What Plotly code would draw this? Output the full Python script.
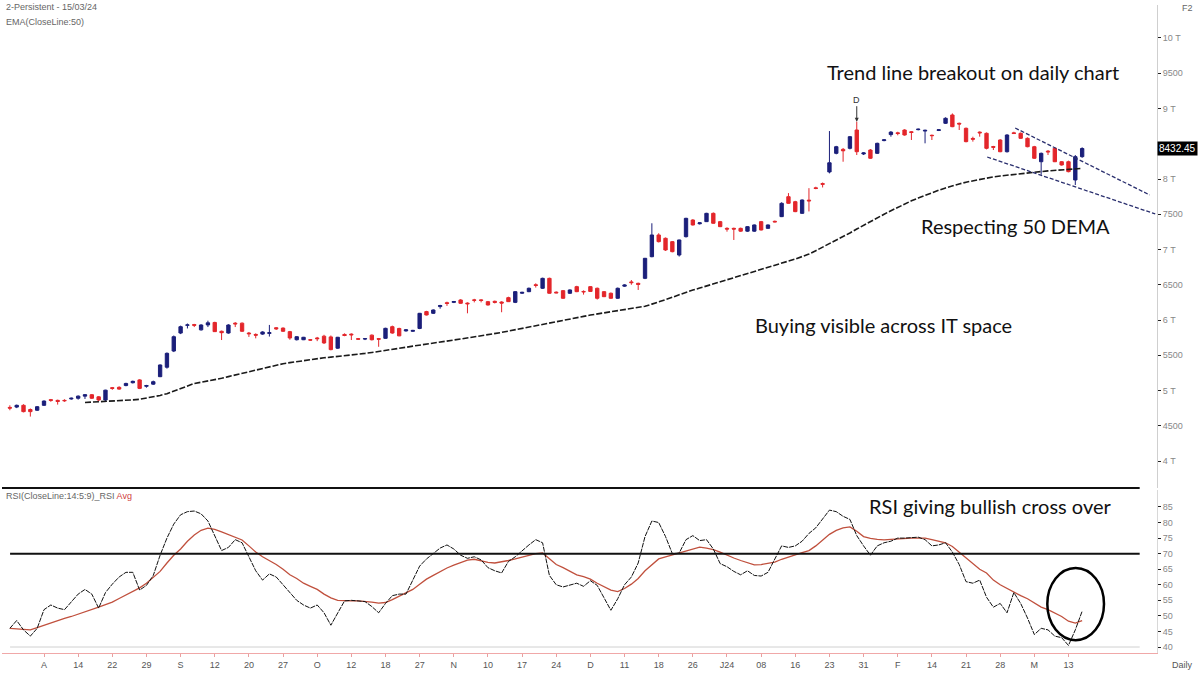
import plotly.graph_objects as go

# ---------------- data ----------------
bars = list(range(158))

opens = [4760,4765,4790,4730,4720,4790,4870,4860,4860,4880,4890,4920,4940,4910,4865,5040,5045,5070,5110,5150,
         5060,5090,5196,5330,5560,5815,5925,5935,5860,5930,5965,5840,5815,5955,5955,5815,5795,5800,5810,5890,
         5885,5835,5720,5720,5720,5745,5770,5760,5600,5795,5800,5735,5730,5785,5735,5740,5905,5880,5845,5840,
         5880,6119,6095,6190,6245,6250,6284,6240,6285,6285,6260,6265,6255,6317,6250,6380,6402,6500,6450,6591,
         6395,6416,6379,6473,6405,6473,6450,6402,6379,6308,6480,6540,6520,6591,6898,7206,7159,7111,6922,7182,
         7418,7365,7395,7513,7395,7300,7300,7300,7260,7260,7395,7300,7400,7466,7749,7678,7513,7700,7875,7935,
         8100,8364,8420,8435,8695,8355,8411,8364,8545,8630,8655,8695,8670,8700,8680,8620,8688,8790,8908,8790,
         8719,8575,8665,8648,8460,8553,8387,8655,8648,8577,8458,8245,8395,8435,8245,8245,7986,8317]
highs = [4790,4800,4805,4745,4780,4860,4880,4870,4875,4900,4930,4950,4950,4920,5010,5050,5060,5110,5140,5160,
         5080,5140,5370,5540,5780,5920,5950,5945,5940,5990,5975,5850,5940,5970,5965,5830,5810,5840,5930,5900,
         5895,5845,5770,5760,5730,5760,5790,5780,5760,5810,5810,5745,5740,5795,5745,5890,5920,5890,5870,5860,
         6100,6130,6150,6215,6260,6270,6295,6250,6300,6295,6270,6275,6265,6330,6410,6400,6460,6520,6600,6600,
         6405,6425,6435,6485,6420,6480,6460,6410,6390,6460,6505,6567,6530,6880,7372,7230,7170,7120,7140,7450,
         7430,7385,7520,7525,7405,7315,7310,7310,7330,7355,7405,7355,7410,7670,7800,7690,7710,7870,7890,7950,
         8680,8470,8440,8610,8813,8380,8425,8515,8565,8680,8670,8705,8680,8715,8700,8630,8705,8875,8930,8800,
         8730,8600,8675,8660,8470,8565,8635,8670,8660,8590,8470,8375,8410,8450,8255,8260,8340,8450]
lows = [4720,4750,4690,4630,4710,4780,4840,4800,4840,4870,4870,4880,4880,4850,4850,5010,5010,5060,5100,5020,
        5040,5080,5190,5310,5545,5800,5880,5900,5850,5900,5830,5716,5805,5900,5830,5760,5740,5790,5765,5860,
        5830,5720,5710,5715,5705,5700,5660,5570,5590,5770,5716,5720,5715,5710,5620,5735,5805,5770,5835,5830,
        5870,6065,6085,6160,6200,6240,6230,6095,6250,6250,6205,6235,6110,6255,6240,6370,6395,6460,6440,6375,
        6380,6300,6370,6395,6360,6400,6290,6325,6300,6300,6470,6500,6426,6580,6890,7100,6980,6960,6900,7170,
        7340,7355,7390,7365,7318,7253,7135,7250,7250,7250,7270,7295,7385,7460,7650,7530,7505,7540,7855,7880,
        8080,8350,8245,8420,8340,8340,8285,8355,8535,8600,8620,8615,8553,8690,8506,8553,8680,8780,8735,8695,
        8520,8530,8600,8420,8411,8380,8375,8640,8570,8450,8285,8060,8340,8240,8190,8095,7915,8300]
closes = [4750,4790,4700,4700,4770,4850,4860,4845,4855,4890,4920,4940,4890,4865,5005,5030,5020,5100,5130,5030,
          5070,5125,5362,5527,5763,5905,5930,5925,5929,5960,5835,5820,5929,5945,5840,5805,5785,5830,5820,5875,
          5840,5745,5763,5755,5715,5735,5675,5580,5755,5780,5790,5728,5735,5720,5728,5882,5815,5775,5860,5852,
          6095,6071,6142,6205,6235,6262,6237,6230,6280,6278,6213,6250,6240,6260,6402,6392,6450,6490,6591,6379,
          6385,6308,6426,6402,6400,6405,6308,6331,6308,6450,6496,6530,6505,6875,7206,7111,6993,6969,7135,7442,
          7348,7378,7513,7372,7324,7290,7290,7260,7324,7348,7277,7348,7392,7655,7655,7537,7702,7690,7865,7925,
          8230,8458,8400,8600,8387,8370,8294,8506,8555,8665,8645,8624,8660,8706,8690,8615,8698,8861,8742,8780,
          8530,8565,8655,8435,8450,8387,8624,8645,8577,8458,8294,8364,8385,8245,8199,8104,8317,8432.45]

ema50 = [None]*11 + [
    4830,4834,4837,4841,4845,4852,4860,4867,4875,4890,4905,4930,4955,4992,5030,5065,5100,5117,5133,5150,
    5173,5197,5220,5245,5270,5295,5318,5342,5365,5380,5395,5410,5425,5440,5455,5464,5473,5482,5491,5500,
    5513,5526,5539,5552,5565,5581,5597,5613,5629,5645,5659,5673,5688,5702,5716,5730,5744,5759,5773,5787,
    5806,5824,5843,5861,5880,5899,5918,5937,5956,5975,5994,6013,6032,6051,6070,6085,6100,6115,6130,6146,
    6163,6179,6195,6225,6255,6285,6322,6358,6395,6424,6453,6482,6511,6540,6569,6598,6627,6656,6685,6714,
    6743,6772,6801,6830,6865,6900,6935,6983,7032,7080,7130,7180,7235,7290,7345,7400,7450,7500,7550,7600,
    7645,7690,7730,7770,7805,7840,7873,7905,7930,7955,7975,7995,8013,8030,8043,8055,8065,8075,8085,8095,
    8105,8115,8123,8130,8138,8145,8150]

rsi = [46,48.5,45.5,43.5,46,52,53.5,52.5,52,54.5,57,58.5,57,52.5,57.5,60.2,62.5,64,64,58.3,
       59.8,63,69.5,75,79.5,82.5,83.5,83.7,82.8,80.5,76,71,72,74.5,73.5,69,64.5,61.5,63.5,62.5,
       60,57.5,55,53.5,52.5,53.5,51,47,51,54.8,55,54.8,54.6,53,51,54,56.5,57,57,61.5,
       66,68.3,70,71.8,72.8,71.5,69.5,68.5,69,68,65.5,64.5,63.8,67.5,69,71,72.8,74.5,73.5,63,
       60,59.3,60,60.5,59.5,61.3,59.8,56,51.8,55.5,60,62.5,67,75.5,80.5,80,75.5,70,70.2,74.5,
       75.8,74.2,74.5,71.5,66.8,65.8,64.3,63.2,64.5,63,62.8,64,68.5,72.5,72,72.5,74,76.5,78.3,81,
       84,83.5,82,81,75.8,72.5,69.5,72.5,73.5,74,75,75,75.1,75.3,74.5,72.5,72.8,73.5,70.5,66.5,
       61,60.5,61.5,56,52.8,54,51,57.5,54,49.3,44,46,45.5,43.5,43,40.5,45.5,51.5]

rsi_avg = [46,45.8,45.6,45.5,46.2,47,47.8,48.6,49.2,49.8,50.5,51.2,52,52.8,53.6,54.4,55.6,56.8,58,59,
           60.5,62.5,64.3,67,69.5,71.5,74,76,77.5,78.2,77.8,77,76.2,75.2,74.4,72.5,70.5,69,67.8,66.5,
           65,63.2,62,60.5,59.5,58.5,57,55.8,55,54.8,54.8,54.8,54.7,54.4,54.1,54.3,55.2,56.3,57.2,58.5,
           60.2,61.8,63,64.3,65.4,66.3,67.2,67.9,68.2,67.7,67.2,67,67.3,67.8,68.3,68.9,69.5,70,70.2,68.5,
           66.5,65.5,64.3,63.2,62.6,61.8,60.5,59.5,58.3,57.8,58.8,60.2,62,64.5,66.5,68.3,69,69.6,70.2,70.8,
           71.5,72.1,71.8,71.3,70.5,69.5,68.6,67.8,67,66.4,66.5,66.8,67.3,68.2,69,69.6,70.3,71,72.5,74.3,
           76.2,77.5,78.3,78.6,77.2,75.5,74.9,74.6,74.4,74.6,74.8,75,75,75,75,74.5,74,73.5,72.3,70.5,
           68.5,66.8,65,63.8,61.5,60,58.8,57.8,56.5,55.5,54.2,52.8,52,51,49.8,48.3,47.7,48.5]

tick_bars = list(range(5, 160, 5))
tick_labels = ["A","14","22","29","S","12","20","27","O","12","18","27","N","10","17","24",
               "D","11","18","26","J24","08","16","23","31","F","14","21","28","M","13"]

price_ticks = list(range(4000, 10001, 500))
price_tick_text = ["" if v == 8500 else (f"{v//1000} T" if v % 1000 == 0 else str(v))
                   for v in price_ticks]
rsi_ticks = list(range(40, 86, 5))

upper_tl_x = [147.2, 166.9]
upper_tl_y = [8723, 7773]
lower_tl_x = [143.1, 167.7]
lower_tl_y = [8312, 7504]

circle_bars = [151.9, 160.2]
circle_rsi = [42.2, 65.4]
signal_bar = 124

# ---------------- figure ----------------
NAVY = "#1b1f7a"
RED = "#e3262b"
XR = [-1.15, 167.96]

fig = go.Figure()
fig.add_trace(go.Candlestick(
    x=bars, open=opens, high=highs, low=lows, close=closes,
    increasing=dict(line=dict(color=NAVY, width=1), fillcolor=NAVY),
    decreasing=dict(line=dict(color=RED, width=1), fillcolor=RED),
    whiskerwidth=0, xaxis="x", yaxis="y", showlegend=False, name="Price"))
fig.add_trace(go.Scatter(x=bars, y=ema50, mode="lines",
                         line=dict(color="#1a1a1a", width=1.6, dash="6px,2px"),
                         xaxis="x", yaxis="y", showlegend=False, name="EMA 50"))
for tx, ty in ((upper_tl_x, upper_tl_y), (lower_tl_x, lower_tl_y)):
    fig.add_trace(go.Scatter(x=tx, y=ty, mode="lines",
                             line=dict(color="#2a2f6e", width=1.3, dash="4px,2px"),
                             xaxis="x", yaxis="y", showlegend=False))

fig.add_trace(go.Scatter(x=bars, y=rsi_avg, mode="lines",
                         line=dict(color="#c0503d", width=1.3),
                         xaxis="x2", yaxis="y2", showlegend=False, name="RSI Avg"))
fig.add_trace(go.Scatter(x=bars, y=rsi, mode="lines",
                         line=dict(color="#111111", width=1, dash="5px,1px"),
                         xaxis="x2", yaxis="y2", showlegend=False, name="RSI"))

H = 653.0
def py(px):
    return 1 - px / H

fig.update_layout(
    width=1198, height=675,
    margin=dict(l=2, r=41, t=0, b=22),
    paper_bgcolor="white", plot_bgcolor="white",
    font=dict(family="Liberation Sans, Arial, sans-serif", size=9, color="#777"),
    xaxis=dict(domain=[0, 1], range=XR, anchor="y", showticklabels=False, showgrid=False,
               zeroline=False, showline=False, rangeslider=dict(visible=False), fixedrange=True),
    yaxis=dict(domain=[py(488), py(5)], range=[3617, 10468], side="right", anchor="x",
               tickvals=price_ticks, ticktext=price_tick_text, ticks="outside", ticklen=3,
               tickcolor="#222", showline=True, linecolor="#cfcfcf", linewidth=1,
               showgrid=False, zeroline=False, tickfont=dict(size=9, color="#888")),
    xaxis2=dict(domain=[0, 1], range=XR, anchor="y2", tickvals=tick_bars, ticktext=tick_labels,
                ticks="outside", ticklen=3, tickcolor="#e8a0a0", showline=True, linecolor="#f0a8a8",
                linewidth=1, showgrid=False, zeroline=False, tickfont=dict(size=9, color="#555")),
    yaxis2=dict(domain=[0, py(490)], range=[38.07, 90.46], side="right", anchor="x2",
                tickvals=rsi_ticks, ticks="outside", ticklen=3, tickcolor="#222",
                showline=True, linecolor="#d8d8d8", showgrid=False, zeroline=False,
                tickfont=dict(size=9, color="#888")),
)

shapes = [
    dict(type="line", xref="paper", yref="paper", x0=0, x1=0.985, y0=py(488), y1=py(488),
         line=dict(color="#111", width=2)),
    dict(type="line", xref="paper", yref="y2", x0=0.007, x1=0.985, y0=70, y1=70,
         line=dict(color="#111", width=2)),
    dict(type="line", xref="paper", yref="y2", x0=0.007, x1=0.985, y0=40, y1=40,
         line=dict(color="#d0d0d0", width=1)),
    dict(type="circle", xref="x2", yref="y2", x0=circle_bars[0], x1=circle_bars[1],
         y0=circle_rsi[0], y1=circle_rsi[1], line=dict(color="#000", width=2.5)),
]
fig.update_layout(shapes=shapes)

BIG = dict(family="Lato, Liberation Sans, sans-serif", size=20, color="#111")

def big(xpx, ypx, text):
    return dict(x=(xpx - 2) / 1155.0, y=py(ypx), xref="paper", yref="paper", text=text,
                showarrow=False, xanchor="center", yanchor="middle", font=BIG)

ann = [
    dict(x=0.002, y=py(7), xref="paper", yref="paper", text="2-Persistent - 15/03/24",
         showarrow=False, xanchor="left", yanchor="middle", font=dict(size=9, color="#666")),
    dict(x=0.002, y=py(22), xref="paper", yref="paper", text="EMA(CloseLine:50)",
         showarrow=False, xanchor="left", yanchor="middle", font=dict(size=9, color="#666")),
    dict(x=0.002, y=py(496), xref="paper", yref="paper",
         text="RSI(CloseLine:14:5:9)_RSI <span style='color:#d04040'>Avg</span>",
         showarrow=False, xanchor="left", yanchor="middle", font=dict(size=9, color="#666")),
    dict(x=1.02, y=py(8), xref="paper", yref="paper", text="F2", showarrow=False,
         xanchor="left", yanchor="middle", font=dict(size=9, color="#666")),
    dict(x=1.011, y=-0.018, xref="paper", yref="paper", text="Daily", showarrow=False,
         xanchor="left", yanchor="middle", font=dict(size=9, color="#555")),
    big(973, 72, "Trend line breakout on daily chart"),
    big(1015, 226, "Respecting 50 DEMA"),
    big(883, 325, "Buying visible across IT space"),
    big(990, 506, "RSI giving bullish cross over"),
    dict(x=1.0, y=closes[-1], xref="paper", yref="y", text=f"{closes[-1]:.2f}", showarrow=False,
         xanchor="left", yanchor="middle", bgcolor="#000", borderpad=1,
         font=dict(size=10, color="white")),
    dict(x=signal_bar, y=highs[signal_bar], xref="x", yref="y", text="D", showarrow=True,
         arrowhead=2, arrowsize=0.8, arrowwidth=1, arrowcolor="#333", ax=0, ay=-22,
         font=dict(size=9, color="#333")),
]
fig.update_layout(annotations=ann)

fig.write_html("out.html")
